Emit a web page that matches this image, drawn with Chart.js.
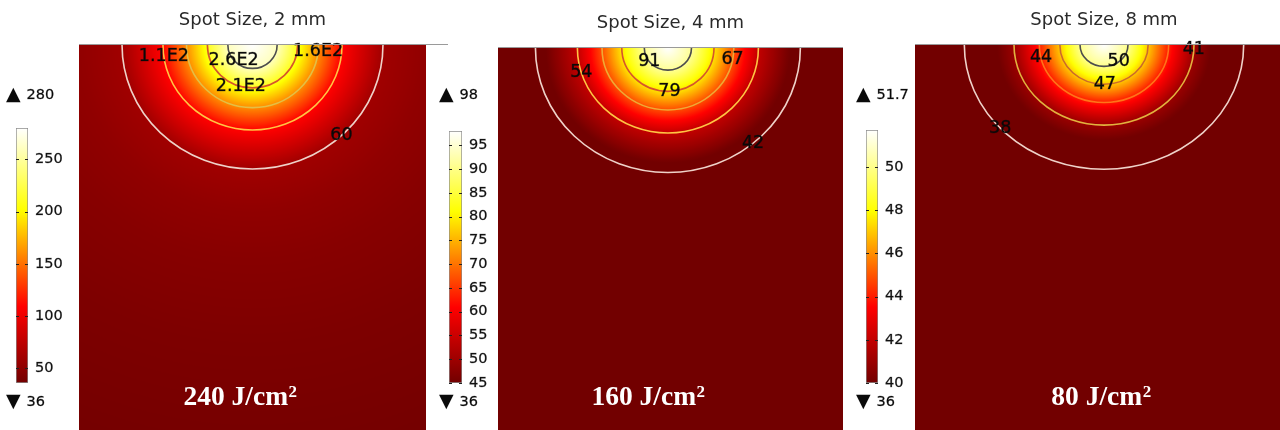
<!DOCTYPE html>
<html><head><meta charset="utf-8">
<script src="https://cdn.jsdelivr.net/npm/chart.js@4.4.1/dist/chart.umd.min.js"></script>
<style>
html,body{margin:0;padding:0;background:#fff;}
#wrap{position:relative;width:1280px;height:430px;overflow:hidden;background:#fff;}
canvas{position:absolute;}
.rule{position:absolute;height:1px;background:#9a9a9a;z-index:5;}
</style></head><body>
<div id="wrap">
<canvas id="h0"></canvas><canvas id="h1"></canvas><canvas id="h2"></canvas>
<canvas id="b0"></canvas><canvas id="b1"></canvas><canvas id="b2"></canvas>
<div class="rule" style="left:79px;top:44px;width:369px"></div>
<div class="rule" style="left:498px;top:47px;width:345px"></div>
<div class="rule" style="left:915px;top:44px;width:365px"></div>
</div>
<script>
// ---------------- data ----------------
const panelTitles = ['Spot Size, 2 mm', 'Spot Size, 4 mm', 'Spot Size, 8 mm'];
const fluenceValues = [240, 160, 80];
const maxTemps = [280, 98, 51.7];
const minTemps = [36, 36, 36];
const colorLow = [36, 45, 40];
const colorHigh = [280, 98, 51.7];

const barTicks1 = [50, 100, 150, 200, 250];
const barTicks2 = [45, 50, 55, 60, 65, 70, 75, 80, 85, 90, 95];
const barTicks3 = [40, 42, 44, 46, 48, 50];

const contourLabels1 = ['2.6E2', '2.1E2', '1.6E2', '1.1E2', '60'];
const contourRadius1 = [0.71, 1.30, 1.90, 2.58, 3.76];
const contourLabelAngle1 = [140, 105, 6, 172, 47];

const contourLabels2 = ['91', '79', '67', '54', '42'];
const contourRadius2 = [0.68, 1.33, 1.90, 2.61, 3.82];
const contourLabelAngle2 = [142, 88, 11, 163, 50];

const contourLabels3 = ['50', '47', '44', '41', '38'];
const contourRadius3 = [0.69, 1.27, 1.86, 2.59, 4.02];
const contourLabelAngle3 = [52, 89, 167, 3, 138];

const profileRadius1 = [0, 0.71, 1.30, 1.90, 2.58, 3.76, 5.0, 6.5, 9.0, 13.0];
const profileTemp1   = [280, 260, 210, 160, 110, 60, 52, 47, 42, 37];
const profileRadius2 = [0, 0.68, 1.33, 1.90, 2.61, 3.82, 6.0, 13.0];
const profileTemp2   = [98, 91, 79, 67, 54, 42, 38, 36];
const profileRadius3 = [0, 0.69, 1.27, 1.86, 2.59, 4.02, 6.0, 13.0];
const profileTemp3   = [51.7, 50, 47, 44, 41, 38, 37, 36];

// ---------------- styles / layout ----------------
const contourColors = [
  ['#4d4d4d', '#d6552b', '#e3bf45', '#ffc443', '#efd2c9'],
  ['#4d4d4d', '#d6552b', '#eeaa35', '#ffc443', '#efd2c9'],
  ['#4d4d4d', '#cc6a2a', '#ff7418', '#e2b23e', '#efd2c9']
];
const panelLayout = [
  {left: 79,  width: 347, xMin: -5,    xMax: 5,    depth: 11.68, padTop: 9.2,  padBottom: 14.2, textCenter: 161},
  {left: 498, width: 345, xMin: -4.9,  xMax: 5.05, depth: 11.72, padTop: 12.7, padBottom: 13.7, textCenter: 150},
  {left: 915, width: 378, xMin: -5.44, xMax: 5.44, depth: 12.45, padTop: 9.2,  padBottom: 14.2, textCenter: 186}
];
const barLayout = [
  {left: 0,   width: 72, pad: {left: 16, right: 6, top: 48, bottom: 37}, axisW: 38},
  {left: 430, width: 70, pad: {left: 19, right: 6, top: 51, bottom: 37}, axisW: 32},
  {left: 850, width: 66, pad: {left: 16, right: 6, top: 50, bottom: 37}, axisW: 32}
];
const cmapStops = [[0, [114, 0, 0]], [0.3, [255, 0, 0]], [0.68, [255, 255, 0]], [1, [255, 255, 255]]];

const contours = [
  {labels: contourLabels1, radius: contourRadius1, angle: contourLabelAngle1, pr: profileRadius1, pt: profileTemp1},
  {labels: contourLabels2, radius: contourRadius2, angle: contourLabelAngle2, pr: profileRadius2, pt: profileTemp2},
  {labels: contourLabels3, radius: contourRadius3, angle: contourLabelAngle3, pr: profileRadius3, pt: profileTemp3}
];
const barTicks = [barTicks1, barTicks2, barTicks3];

function cmap(t) {
  t = Math.max(0, Math.min(1, t));
  for (let i = 1; i < cmapStops.length; i++) {
    if (t <= cmapStops[i][0]) {
      const [t0, c0] = cmapStops[i - 1], [t1, c1] = cmapStops[i];
      const f = (t - t0) / (t1 - t0);
      return 'rgb(' + c0.map((v, k) => Math.round(v + f * (c1[k] - v))).join(',') + ')';
    }
  }
  return 'rgb(255,255,255)';
}
function interp(xs, ys, x) {
  if (x <= xs[0]) return ys[0];
  for (let i = 1; i < xs.length; i++) {
    if (x <= xs[i]) { const f = (x - xs[i - 1]) / (xs[i] - xs[i - 1]); return ys[i - 1] + f * (ys[i] - ys[i - 1]); }
  }
  return ys[ys.length - 1];
}

function fieldPlugin(i) {
  const c = contours[i];
  return {
    id: 'field' + i,
    beforeDatasetsDraw(chart) {
      const {ctx, chartArea: a, scales: {x, y}} = chart;
      const cx = x.getPixelForValue(0), cy = y.getPixelForValue(0);
      const kx = x.getPixelForValue(1) - cx, ky = y.getPixelForValue(-1) - cy;
      ctx.save();
      ctx.beginPath(); ctx.rect(a.left, a.top, a.right - a.left, a.bottom - a.top); ctx.clip();
      ctx.translate(cx, cy); ctx.scale(1, ky / kx);
      const rMax = c.pr[c.pr.length - 1];
      const g = ctx.createRadialGradient(0, 0, 0, 0, 0, rMax * kx);
      const N = 400;
      for (let n = 0; n <= N; n++) {
        const s = n / N;
        const T = interp(c.pr, c.pt, s * rMax);
        g.addColorStop(s, cmap((T - colorLow[i]) / (colorHigh[i] - colorLow[i])));
      }
      ctx.fillStyle = g;
      ctx.fillRect(-3000, -3000, 6000, 6000);
      ctx.restore();
    },
    afterDatasetsDraw(chart) {
      const {ctx, chartArea: a, scales: {x, y}} = chart;
      const cx = x.getPixelForValue(0), cy = y.getPixelForValue(0);
      const kx = x.getPixelForValue(1) - cx, ky = y.getPixelForValue(-1) - cy;
      ctx.save();
      ctx.beginPath(); ctx.rect(a.left, a.top, a.right - a.left, a.bottom - a.top); ctx.clip();
      ctx.lineWidth = 1.6;
      c.radius.forEach((r, j) => {
        ctx.strokeStyle = contourColors[i][j];
        ctx.beginPath(); ctx.ellipse(cx, cy, r * kx, r * ky, 0, 0, Math.PI * 2); ctx.stroke();
      });
      ctx.restore();
      ctx.save();
      ctx.font = '17.5px "DejaVu Sans"'; ctx.fillStyle = '#0a0a0a';
      ctx.strokeStyle = 'rgba(10,10,10,0.55)'; ctx.lineWidth = 0.6;
      ctx.textAlign = 'center'; ctx.textBaseline = 'middle';
      c.labels.forEach((lab, j) => {
        const ang = c.angle[j] * Math.PI / 180, r = c.radius[j];
        const px = x.getPixelForValue(r * Math.cos(ang)), py = y.getPixelForValue(-r * Math.sin(ang));
        ctx.fillText(lab, px, py);
        ctx.strokeText(lab, px, py);
      });
      // fluence label
      const main = fluenceValues[i] + ' J/cm';
      ctx.textAlign = 'left'; ctx.textBaseline = 'alphabetic'; ctx.fillStyle = '#ffffff';
      ctx.font = 'bold 27.5px "Liberation Serif"';
      const w1 = ctx.measureText(main).width;
      ctx.font = 'bold 17px "Liberation Serif"';
      const w2 = ctx.measureText('2').width;
      const x0 = panelLayout[i].textCenter - (w1 + w2) / 2;
      ctx.font = 'bold 27.5px "Liberation Serif"';
      ctx.fillText(main, x0, 405);
      ctx.font = 'bold 17px "Liberation Serif"';
      ctx.fillText('2', x0 + w1 + 0.5, 397);
      ctx.restore();
    }
  };
}

function barPlugin(i) {
  return {
    id: 'barx' + i,
    afterDraw(chart) {
      const {ctx, chartArea: a, scales: {y}} = chart;
      ctx.save();
      ctx.strokeStyle = '#222'; ctx.lineWidth = 1;
      y.ticks.forEach(t => {
        const py = Math.round(y.getPixelForValue(t.value)) + 0.5;
        ctx.beginPath();
        ctx.moveTo(a.left, py); ctx.lineTo(a.left + 3, py);
        ctx.moveTo(a.right - 3, py); ctx.lineTo(a.right, py);
        ctx.stroke();
      });
      ctx.fillStyle = '#0a0a0a'; ctx.textAlign = 'left'; ctx.textBaseline = 'middle';
      ctx.font = '19px "DejaVu Sans"';
      ctx.fillText('\u25B2', a.left - 10, 15);
      ctx.fillText('\u25BC', a.left - 10, 322);
      ctx.font = '14.5px "DejaVu Sans"';
      ctx.strokeStyle = 'rgba(10,10,10,0.5)'; ctx.lineWidth = 0.5;
      [[String(maxTemps[i]), 15], [String(minTemps[i]), 322]].forEach(([s, yy]) => {
        ctx.fillText(s, a.left + 10.5, yy);
        ctx.strokeText(s, a.left + 10.5, yy);
      });
      ctx.restore();
    }
  };
}

for (let i = 0; i < 3; i++) {
  const L = panelLayout[i];
  const el = document.getElementById('h' + i);
  el.width = L.width; el.height = 430;
  el.style.left = L.left + 'px'; el.style.top = '0px';
  el.style.width = L.width + 'px'; el.style.height = '430px';
  new Chart(el, {
    type: 'scatter',
    data: {datasets: [{data: [], showLine: false}]},
    options: {
      responsive: false, animation: false, events: [], devicePixelRatio: 1,
      layout: {padding: 0},
      plugins: {
        legend: {display: false}, tooltip: {enabled: false},
        title: {display: true, text: panelTitles[i], color: '#2a2a2a',
          font: {family: 'DejaVu Sans', size: 18, weight: 'normal'},
          padding: {top: L.padTop, bottom: L.padBottom}}
      },
      scales: {
        x: {type: 'linear', display: false, min: L.xMin, max: L.xMax},
        y: {type: 'linear', display: false, min: -L.depth, max: 0}
      }
    },
    plugins: [fieldPlugin(i)]
  });

  const B = barLayout[i];
  const bel = document.getElementById('b' + i);
  bel.width = B.width; bel.height = 340;
  bel.style.left = B.left + 'px'; bel.style.top = '80px';
  bel.style.width = B.width + 'px'; bel.style.height = '340px';
  new Chart(bel, {
    type: 'bar',
    data: {labels: ['T'], datasets: [{
      data: [[colorLow[i], colorHigh[i]]],
      backgroundColor: (c) => {
        const a = c.chart.chartArea;
        if (!a) return 'rgb(114,0,0)';
        const g = c.chart.ctx.createLinearGradient(0, a.bottom, 0, a.top);
        for (let n = 0; n <= 50; n++) g.addColorStop(n / 50, cmap(n / 50));
        return g;
      },
      borderColor: '#8c8c8c', borderWidth: 1, borderSkipped: false,
      barPercentage: 1, categoryPercentage: 1
    }]},
    options: {
      responsive: false, animation: false, events: [], devicePixelRatio: 1,
      layout: {padding: B.pad},
      plugins: {legend: {display: false}, tooltip: {enabled: false}},
      scales: {
        x: {display: false},
        y: {
          position: 'right', min: colorLow[i], max: colorHigh[i],
          afterBuildTicks: (s) => { s.ticks = barTicks[i].map(v => ({value: v})); },
          afterFit: (s) => { s.width = B.axisW; },
          grid: {display: false, drawTicks: false},
          border: {display: false},
          ticks: {padding: 7, color: '#111', textStrokeColor: 'rgba(17,17,17,0.5)', textStrokeWidth: 0.5,
                  font: {family: 'DejaVu Sans', size: 14.5}}
        }
      }
    },
    plugins: [barPlugin(i)]
  });
}
</script>
</body></html>
